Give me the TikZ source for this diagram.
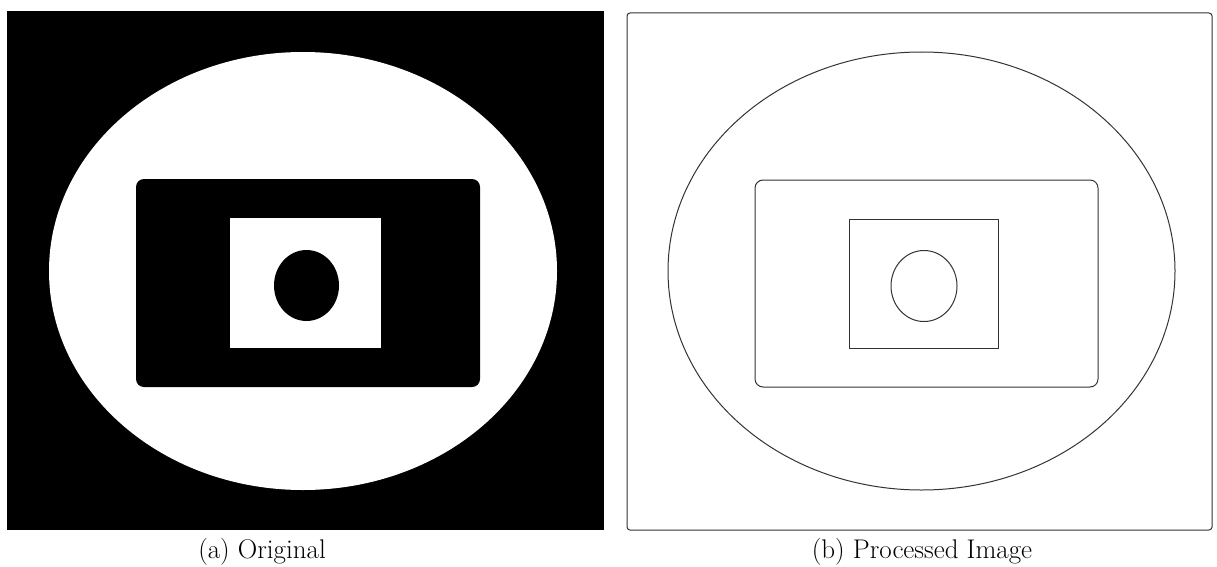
\documentclass[tikz,border=0pt]{standalone}
\usetikzlibrary{positioning}
\tikzset{
  blob/.style={fill=black},
  hole/.style={fill=white},
  edge/.style={draw=black!80, line width=1pt},
  caption/.style={font=\fontsize{27}{32}\selectfont, anchor=base, inner sep=0}
}
\begin{document}
\begin{tikzpicture}[x=1pt,y=-1pt]
\useasboundingbox (0,0) rectangle (1217,567);
% original
\fill[blob] (7,11) rectangle (604,530);
\fill[hole] (303,271) ellipse [x radius=254, y radius=219];
\fill[blob, rounded corners=8pt] (136,179) rectangle (480,387);
\fill[hole] (230,218) rectangle (381,348);
\fill[blob] (306.5,285.5) ellipse [x radius=32.5, y radius=35.5];
% processed
\draw[edge, rounded corners=3pt] (627,13) rectangle (1212,530);
\draw[edge] (921.5,271) ellipse [x radius=253.5, y radius=219];
\draw[edge, rounded corners=8pt] (755,180) rectangle (1098,387);
\draw[edge] (849,219) rectangle (998,348);
\draw[edge] (924,286) ellipse [x radius=33, y radius=35.5];
% captions
\node[caption] (capa) at (262,558) {(a) Original};
\node[caption] (capb) at (922,558) {(b) Processed Image};
\end{tikzpicture}
\end{document}
